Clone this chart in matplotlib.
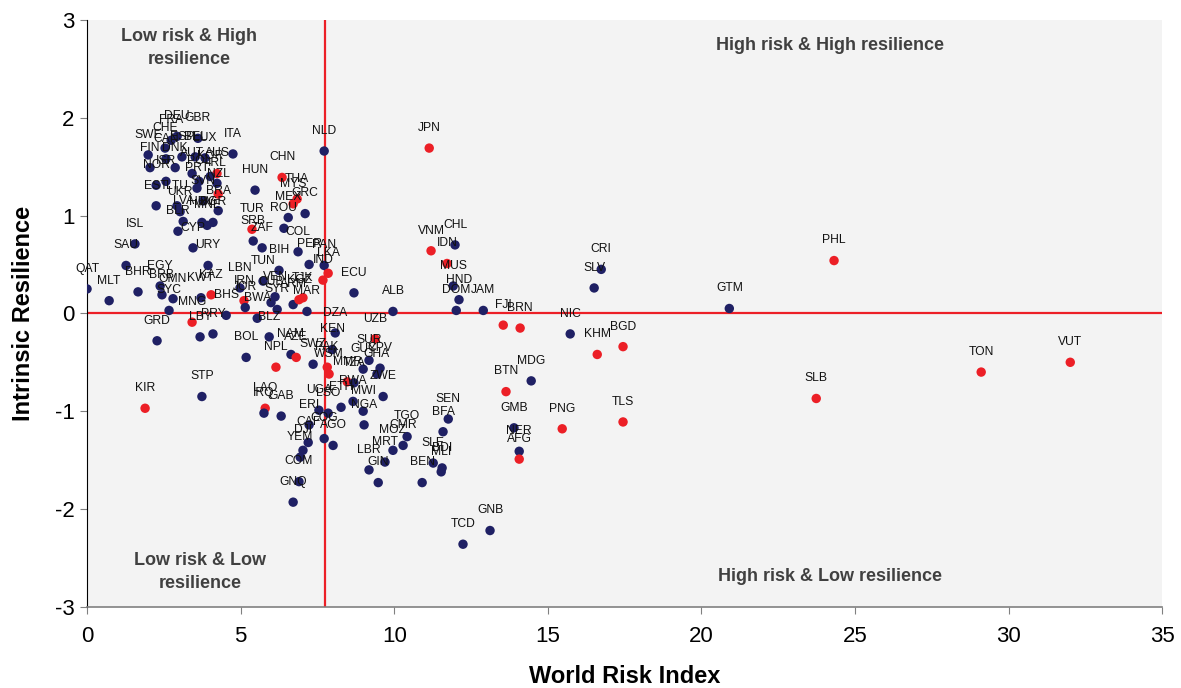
import matplotlib
matplotlib.use("Agg")
from matplotlib import pyplot as plt

plt.rcParams['font.family'] = ['Liberation Sans', 'DejaVu Sans']
plt.rcParams['axes.unicode_minus'] = False

# country codes, World Risk Index, Intrinsic Resilience
codes = ['DEU', 'FRA', 'GBR', 'CHE', 'SWE', 'CAN', 'ESP', 'BEL', 'LUX', 'DNK',
         'FIN', 'ITA', 'AUT', 'AUS', 'KOR', 'ISR', 'NOR', 'POL', 'IRL', 'PRT',
         'NZL', 'SVN', 'EST', 'LTU', 'UKR', 'BRA', 'LVA', 'HRV', 'MNE', 'BGR',
         'BLR', 'CYP', 'URY', 'ISL', 'SAU', 'HUN', 'CHN', 'THA', 'MYS', 'GRC',
         'MEX', 'ROU', 'TUR', 'SRB', 'ZAF', 'COL', 'BIH', 'PER', 'PAN', 'LKA',
         'IND', 'ECU', 'TUN', 'LBN', 'VEN', 'IRN', 'CUB', 'JOR', 'SYR', 'ARM',
         'KGZ', 'TJK', 'MAR', 'BWA', 'BHS', 'KAZ', 'KWT', 'OMN', 'EGY', 'BHR',
         'BRB', 'SYC', 'MNG', 'LBY', 'PRY', 'GRD', 'QAT', 'MLT', 'BLZ', 'DZA',
         'UZB', 'BOL', 'NAM', 'AZE', 'NPL', 'KEN', 'SWZ', 'PAK', 'WSM', 'SUR',
         'GUY', 'CPV', 'GHA', 'MMR', 'TZA', 'ZWE', 'RWA', 'ETH', 'MWI', 'UGA',
         'LSO', 'LAO', 'IRQ', 'GAB', 'ERI', 'NGA', 'COG', 'CAF', 'AGO', 'DJI',
         'YEM', 'COM', 'GNQ', 'TGO', 'CMR', 'MOZ', 'MRT', 'LBR', 'GIN', 'SEN',
         'BFA', 'SLE', 'BDI', 'MLI', 'BEN', 'TCD', 'GNB', 'STP', 'KIR', 'JPN',
         'NLD', 'VNM', 'IDN', 'CHL', 'MUS', 'HND', 'DOM', 'JAM', 'ALB', 'FJI',
         'BRN', 'NIC', 'KHM', 'BGD', 'CRI', 'SLV', 'GTM', 'PHL', 'MDG', 'BTN',
         'GMB', 'NER', 'AFG', 'PNG', 'TLS', 'SLB', 'TON', 'VUT']

wri = [2.93, 2.74, 3.61, 2.54, 1.99, 2.57, 3.09, 3.52, 3.84, 2.87,
       2.05, 4.75, 3.42, 4.23, 4.01, 2.57, 2.25, 3.65, 4.23, 3.58,
       4.27, 3.78, 2.25, 2.93, 3.03, 4.27, 3.13, 3.74, 3.91, 4.10,
       2.96, 3.45, 3.94, 1.56, 1.27, 5.47, 6.35, 6.84, 6.71, 7.10,
       6.55, 6.41, 5.37, 5.41, 5.70, 6.87, 6.25, 7.23, 7.72, 7.85,
       7.68, 8.69, 5.73, 4.98, 6.12, 5.11, 5.99, 5.15, 6.19, 6.71,
       6.90, 7.03, 7.16, 5.54, 4.53, 4.04, 3.71, 2.80, 2.38, 1.66,
       2.44, 2.67, 3.42, 3.68, 4.10, 2.28, 0.00, 0.72, 5.93, 8.08,
       9.38, 5.18, 6.64, 6.81, 6.15, 7.98, 7.36, 7.82, 7.88, 9.18,
       8.99, 9.54, 9.44, 8.47, 8.69, 9.64, 8.66, 8.27, 8.99, 7.55,
       7.85, 5.80, 5.76, 6.32, 7.23, 9.02, 7.72, 7.20, 8.01, 7.03,
       6.94, 6.90, 6.71, 10.42, 10.29, 9.96, 9.70, 9.18, 9.48, 11.76,
       11.59, 11.27, 11.56, 11.53, 10.91, 12.24, 13.12, 3.74, 1.89, 11.14,
       7.72, 11.20, 11.72, 11.98, 11.92, 12.11, 12.02, 12.90, 9.96, 13.55,
       14.10, 15.73, 16.61, 17.45, 16.74, 16.51, 20.91, 24.32, 14.46, 13.64,
       13.90, 14.07, 14.07, 15.47, 17.45, 23.74, 29.11, 32.01]

resilience = [1.81, 1.77, 1.79, 1.69, 1.62, 1.58, 1.60, 1.60, 1.59, 1.49,
              1.49, 1.63, 1.43, 1.43, 1.40, 1.35, 1.31, 1.35, 1.33, 1.28,
              1.22, 1.15, 1.10, 1.10, 1.04, 1.05, 0.94, 0.93, 0.90, 0.93,
              0.84, 0.67, 0.49, 0.71, 0.49, 1.26, 1.39, 1.17, 1.12, 1.02,
              0.98, 0.87, 0.86, 0.74, 0.67, 0.63, 0.44, 0.50, 0.49, 0.41,
              0.34, 0.21, 0.33, 0.26, 0.17, 0.13, 0.11, 0.06, 0.04, 0.09,
              0.14, 0.16, 0.02, -0.05, -0.02, 0.19, 0.16, 0.15, 0.28, 0.22,
              0.19, 0.03, -0.09, -0.24, -0.21, -0.28, 0.25, 0.13, -0.24, -0.20,
              -0.26, -0.45, -0.42, -0.45, -0.55, -0.37, -0.52, -0.55, -0.62, -0.48,
              -0.57, -0.56, -0.62, -0.70, -0.71, -0.85, -0.90, -0.96, -1.00, -0.99,
              -1.02, -0.97, -1.02, -1.05, -1.14, -1.14, -1.28, -1.32, -1.35, -1.40,
              -1.47, -1.72, -1.93, -1.26, -1.35, -1.40, -1.52, -1.60, -1.73, -1.08,
              -1.21, -1.53, -1.58, -1.62, -1.73, -2.36, -2.22, -0.85, -0.97, 1.69,
              1.66, 0.64, 0.51, 0.70, 0.28, 0.14, 0.03, 0.03, 0.02, -0.12,
              -0.15, -0.21, -0.42, -0.34, 0.45, 0.26, 0.05, 0.54, -0.69, -0.80,
              -1.17, -1.41, -1.49, -1.18, -1.11, -0.87, -0.60, -0.50]

# countries drawn in red
red_group = ['AUS', 'NZL', 'CHN', 'THA', 'MYS', 'TUR', 'LKA', 'IND', 'IRN',
             'KGZ', 'TJK', 'KAZ', 'MNG', 'UZB', 'AZE', 'NPL', 'PAK', 'WSM',
             'MMR', 'LAO', 'KIR', 'JPN', 'VNM', 'IDN', 'FJI', 'BRN', 'KHM',
             'BGD', 'PHL', 'BTN', 'AFG', 'PNG', 'TLS', 'SLB', 'TON', 'VUT']

risk_avg = 7.75

navy = '#1f2064'
red = '#ec1f26'
colors = [red if c in red_group else navy for c in codes]

fig = plt.figure(figsize=(11.81, 6.88), dpi=100)
ax = fig.add_axes([0.0737, 0.118, 0.9103, 0.853])
ax.set_facecolor('#f3f3f3')

ax.axvline(risk_avg, color=red, lw=1.6, zorder=1)
ax.axhline(0, color=red, lw=1.6, zorder=1)

ax.scatter(wri, resilience, s=46, c=colors, edgecolors='none', zorder=3)

for c, x, y in zip(codes, wri, resilience):
    ax.annotate(c, (x, y), xytext=(0, 14.5), textcoords='offset points',
                ha='center', va='center', fontsize=8.7, color='#111111', zorder=4)

quad = dict(fontsize=13, fontweight='bold', color='#404040', ha='center', va='center',
            linespacing=1.45)
ax.text(3.32, 2.71, 'Low risk & High\nresilience', **quad)
ax.text(24.2, 2.74, 'High risk & High resilience', **quad)
ax.text(3.68, -2.64, 'Low risk & Low\nresilience', **quad)
ax.text(24.2, -2.69, 'High risk & Low resilience', **quad)

ax.set_xlim(0, 35)
ax.set_ylim(-3, 3)
ax.set_xticks(range(0, 36, 5))
ax.set_yticks(range(-3, 4))

ax.spines['top'].set_visible(False)
ax.spines['right'].set_visible(False)
ax.spines['left'].set_color('black')
ax.spines['bottom'].set_color('#808080')
ax.spines['bottom'].set_linewidth(1.2)
ax.tick_params(axis='x', length=5, color='#808080', labelsize=16, pad=9)
ax.tick_params(axis='y', length=5, color='#808080', labelsize=16, pad=4)

ax.set_xlabel('World Risk Index', fontsize=17, fontweight='bold', labelpad=13)
ax.set_ylabel('Intrinsic Resilience', fontsize=17, fontweight='bold', labelpad=14)

fig.savefig('out.png', dpi=100)
